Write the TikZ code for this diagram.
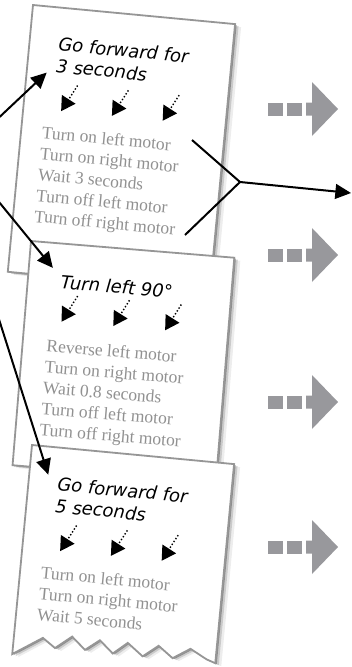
\documentclass[tikz,border=0pt]{standalone}
\usepackage{fontspec}
\setmainfont{Liberation Serif}
\newfontfamily\handfont{DejaVu Sans}
\usetikzlibrary{positioning,arrows.meta,shadows}

\definecolor{papergray}{RGB}{150,150,150}
\definecolor{stepgray}{RGB}{145,145,145}
\definecolor{blockgray}{RGB}{152,152,156}

\begin{document}
\begin{tikzpicture}[
        x=1pt, y=-1pt,
        >={Triangle[length=5.5mm, width=5.2mm]},
        paper/.style={fill=white, draw=papergray, line width=1.8pt,
                      drop shadow={shadow xshift=1.5pt, shadow yshift=-1pt, opacity=.3, fill=black},
                      drop shadow={shadow xshift=3.5pt, shadow yshift=-2pt, opacity=.15, fill=black},
                      drop shadow={shadow xshift=6pt, shadow yshift=-3pt, opacity=.07, fill=black}},
        title/.style={font=\handfont\itshape\fontsize{18}{20}\selectfont,
                      anchor=base west, inner sep=0pt},
        stepline/.style={font=\fontsize{17.5}{21}\selectfont, text=stepgray,
                         anchor=base west, inner sep=0pt},
        fan/.style={dotted, line width=1.4pt, -{Triangle[length=14pt, width=16pt]}},
        link/.style={line width=2pt},
    ]
    \useasboundingbox (0,0) rectangle (351,667);
    \clip (0,0) rectangle (351,667);

    % sheet 1
    \begin{scope}[shift={(33,5)}, rotate=-5.4, transform shape]
        \path[paper] (0,0) rectangle (203,268);
        \node[title] (t1a) at (29,43) {Go forward for};
        \node[title] (t1b) at (29,65) {3 seconds};
        \foreach \x in {52,103,154}
            \draw[fan] (\x,76) -- ++(-14,27);
        \foreach \txt [count=\i] in {Turn on left motor, Turn on right motor,
                Wait 3 seconds, Turn off left motor, Turn off right motor}
            \node[stepline] (g1-\i) at (21,111+21*\i) {\txt};
        \coordinate (in1) at (20,66);
    \end{scope}

    % sheet 2
    \begin{scope}[shift={(31,241)}, rotate=-4.7, transform shape]
        \path[paper] (0,0) rectangle (204,225);
        \node[title] (t2a) at (33,45) {Turn left 90°};
        \foreach \x in {51,103,155}
            \draw[fan] (\x,51) -- ++(-14,27);
        \foreach \txt [count=\i] in {Reverse left motor, Turn on right motor,
                Wait 0.8 seconds, Turn off left motor, Turn off right motor}
            \node[stepline] (g2-\i) at (24,88+21*\i) {\txt};
        \coordinate (in2) at (24,25);
    \end{scope}

    % sheet 3 (torn)
    \begin{scope}[shift={(32,445)}, rotate=-5.4, transform shape]
        \path[paper] (0,0) -- (203,0) -- (203,200) -- (194,197) -- (177,188)
            -- (160,199) -- (145,188) -- (130,200) -- (114,188) -- (100,200)
            -- (86,188) -- (72,199) -- (58,187) -- (42,200) -- (29,191)
            -- (0,210) -- cycle;
        \node[title] (t3a) at (29,43) {Go forward for};
        \node[title] (t3b) at (29,65) {5 seconds};
        \foreach \x in {52,103,154}
            \draw[fan] (\x,76) -- ++(-14,27);
        \foreach \txt [count=\i] in {Turn on left motor, Turn on right motor,
                Wait 5 seconds}
            \node[stepline] (g3-\i) at (21,111+21*\i) {\txt};
        \coordinate (in3) at (19,28);
    \end{scope}

    % incoming arrows
    \coordinate (src1) at (-10,126);
    \coordinate (src2) at (-10,191);
    \coordinate (src3) at (-10,291);
    \draw[link, ->] (src1) -- (in1);
    \draw[link, ->] (src2) -- (in2);
    \draw[link, ->] (src3) -- (in3);

    % fork
    \coordinate (fa) at (192,140);
    \coordinate (fb) at (185,235);
    \coordinate (fork) at (240,182);
    \coordinate (out) at (351,193);
    \draw[link] (fa) -- (fork) -- (fb);
    \draw[link, ->] (fork) -- (out);

    % gray arrows
    \foreach \c in {109,255,402,547} {
        \fill[blockgray] (268,\c-6.5) rectangle (283,\c+6.5);
        \fill[blockgray] (287,\c-6.5) rectangle (302,\c+6.5);
        \fill[blockgray] (306,\c-6.5) -- (312,\c-6.5) -- (312,\c-27) -- (338,\c)
            -- (312,\c+27) -- (312,\c+6.5) -- (306,\c+6.5) -- cycle;
    }
\end{tikzpicture}
\end{document}
